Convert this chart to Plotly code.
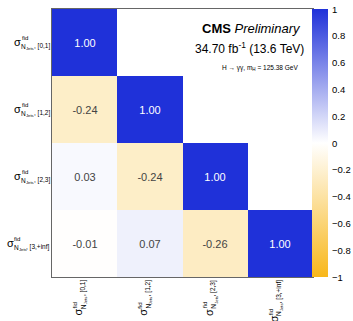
import plotly.graph_objects as go

bins = ["[0,1]", "[1,2]", "[2,3]", "[3,+inf]"]
row0 = [1.00, None, None, None]
row1 = [-0.24, 1.00, None, None]
row2 = [0.03, -0.24, 1.00, None]
row3 = [-0.01, 0.07, -0.26, 1.00]
z = [row0, row1, row2, row3]
cbar_vals = [1, 0.8, 0.6, 0.4, 0.2, 0, -0.2, -0.4, -0.6, -0.8, -1]
cbar_text = ["1", "0.8", "0.6", "0.4", "0.2", "0", "\u22120.2", "\u22120.4", "\u22120.6", "\u22120.8", "\u22121"]

FONT = "Liberation Sans, Arial, sans-serif"
idx = list(range(len(bins)))
text = [["" if v is None else "%.2f" % v for v in r] for r in z]

AW = {"N": 722, "J": 500, "e": 556, "t": 278, "s": 500, ",": 278, " ": 278, "[": 278, "]": 278,
      "+": 584, "i": 222, "n": 556, "f": 278, "d": 556, "σ": 600}
def tw(s, size):
    return sum(AW.get(c, 556) for c in s) * size / 1000.0

S_SIG, S_FID, S_N, S_JETS, S_REST = 11, 6, 6.5, 4.2, 6.5
K = 0.3465  # baseline -> box centre offset (fraction of font size)

fig = go.Figure()
fig.add_trace(go.Heatmap(
    z=z, x=idx, y=idx,
    zmin=-1, zmax=1,
    colorscale=[[0, "#f8b71a"], [0.5, "#ffffff"], [1, "#1f31d9"]],
    text=text, texttemplate="%{text}",
    textfont=dict(family=FONT, size=11),
    hoverongaps=False,
    colorbar=dict(
        x=0.9965, xanchor="left", xpad=0, y=0, yanchor="bottom", ypad=0,
        len=1, lenmode="fraction", thickness=16, outlinewidth=0,
        tickvals=cbar_vals, ticktext=cbar_text, ticks="", showticklabels=False,
    ),
))

ann = []
def piece(txt, size, **kw):
    d = dict(text=txt, showarrow=False, borderpad=0, borderwidth=0,
             xanchor="center", yanchor="middle",
             font=dict(family=FONT, size=size, color="black"))
    d.update(kw)
    ann.append(d)

def parts(b):
    rest = ", " + b
    p = []
    u = 0.0
    p.append(("σ", S_SIG, u, 0.0)); u_sig = tw("σ", S_SIG) + 0.3
    p.append(("fid", S_FID, u_sig, -5.0))
    u = u_sig
    p.append(("N", S_N, u, 3.0)); u += tw("N", S_N)
    p.append(("Jets", S_JETS, u, 4.5)); u += tw("Jets", S_JETS)
    p.append((rest, S_REST, u, 3.0)); u += tw(rest, S_REST)
    return p, u

for i, b in enumerate(bins):
    p, L = parts(b)
    x_end = -2.0
    for t, s, u0, dv in p:
        uc = u0 + tw(t, s) / 2
        xs = x_end - L + uc
        ys = -(3.0 + dv) + K * s
        piece(t, s, xref="paper", yref="y", x=0, y=i, xshift=xs, yshift=ys)

for j, b in enumerate(bins):
    p, L = parts(b)
    for t, s, u0, dv in p:
        uc = u0 + tw(t, s) / 2
        ys = -(3.0 + L - uc)
        xs = -2.5 + dv - K * s
        piece(t, s, xref="x", yref="paper", x=j, y=0, xshift=xs, yshift=ys, textangle=-90)

for v, t in zip(cbar_vals, cbar_text):
    piece(t, 9.5, xref="paper", yref="paper", x=1.0728, y=(v + 1) / 2, xanchor="left")

ann += [
    dict(xref="paper", yref="paper", x=1, y=1, xanchor="right", yanchor="middle",
         xshift=-10, yshift=-19, text="<b>CMS</b> <i>Preliminary</i>", showarrow=False,
         font=dict(family=FONT, size=13, color="black")),
    dict(xref="paper", yref="paper", x=1, y=1, xanchor="right", yanchor="middle",
         xshift=-7, yshift=-39, text="34.70 fb<sup>-1</sup> (13.6 TeV)", showarrow=False,
         font=dict(family=FONT, size=12, color="black")),
    dict(xref="paper", yref="paper", x=1, y=1, xanchor="right", yanchor="middle",
         xshift=-13, yshift=-59, text="H → γγ, m<sub>H</sub> = 125.38 GeV", showarrow=False,
         font=dict(family=FONT, size=6.5, color="black")),
]

fig.update_layout(
    width=353, height=321,
    margin=dict(l=52, r=40, t=9, b=44),
    paper_bgcolor="white", plot_bgcolor="white",
    font=dict(family=FONT, color="black"),
    xaxis=dict(tickvals=idx, showticklabels=False, range=[-0.5, 3.5],
               showgrid=False, zeroline=False, showline=True, linecolor="#666", mirror=True,
               ticks=""),
    yaxis=dict(tickvals=idx, showticklabels=False, range=[3.5, -0.5],
               showgrid=False, zeroline=False, showline=True, linecolor="#666", mirror=True,
               ticks=""),
    annotations=ann,
)
fig.write_html("out.html", config={"displayModeBar": False},
               post_script="document.body.style.margin='0';document.body.style.overflow='hidden';")
